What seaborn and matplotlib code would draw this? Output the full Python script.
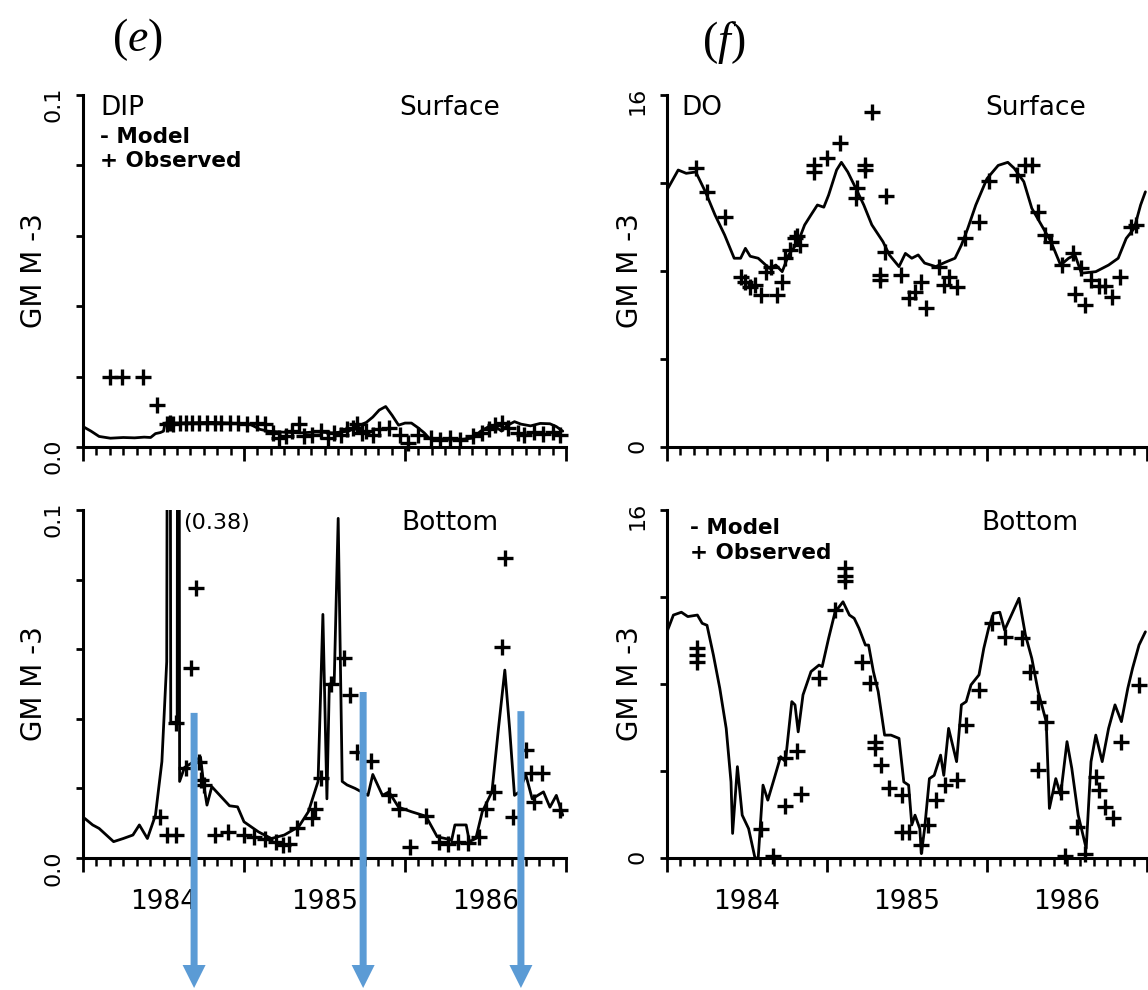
import numpy as np
import seaborn as sns
import matplotlib.pyplot as plt
from matplotlib.patches import FancyArrow
from matplotlib.ticker import FixedLocator, FuncFormatter, NullFormatter
from matplotlib.transforms import IdentityTransform

# ---- DIP surface (g m-3) ----
dip_surf_model_t = [1984.0, 1984.05, 1984.1, 1984.17, 1984.25, 1984.32, 1984.38, 1984.42, 1984.45,
                    1984.48, 1984.5, 1984.51, 1984.6, 1984.7, 1984.8, 1984.9, 1984.98, 1985.04,
                    1985.1, 1985.15, 1985.25, 1985.35, 1985.45, 1985.55, 1985.65, 1985.71, 1985.76,
                    1985.8, 1985.84, 1985.88, 1985.92, 1985.96, 1986.0, 1986.04, 1986.08, 1986.12,
                    1986.15, 1986.25, 1986.35, 1986.42, 1986.47, 1986.52, 1986.57, 1986.6, 1986.63,
                    1986.68, 1986.72, 1986.78, 1986.84, 1986.9, 1986.94, 1986.98]
dip_surf_model = [0.0058, 0.0045, 0.003, 0.0025, 0.0027, 0.0026, 0.0028, 0.0027, 0.0038,
                  0.0041, 0.0045, 0.0068, 0.0068, 0.0069, 0.007, 0.0068, 0.0066, 0.0064,
                  0.005, 0.0045, 0.0042, 0.004, 0.0043, 0.004, 0.0045, 0.006, 0.007,
                  0.0085, 0.0105, 0.0115, 0.009, 0.0062, 0.0068, 0.0068, 0.0055, 0.004,
                  0.0025, 0.0022, 0.0022, 0.0025, 0.0045, 0.0058, 0.0055, 0.0045, 0.006,
                  0.0072, 0.0065, 0.006, 0.0067, 0.0066, 0.0058, 0.0045]
dip_surf_obs_t = [1984.17, 1984.24, 1984.37, 1984.46, 1984.52, 1984.54, 1984.56, 1984.6, 1984.64,
                  1984.68, 1984.72, 1984.77, 1984.82, 1984.86, 1984.91, 1984.96, 1985.02, 1985.08,
                  1985.13, 1985.18, 1985.22, 1985.26, 1985.3, 1985.34, 1985.37, 1985.42, 1985.48,
                  1985.52, 1985.56, 1985.6, 1985.64, 1985.68, 1985.7, 1985.73, 1985.76, 1985.8,
                  1985.84, 1985.9, 1985.97, 1986.02, 1986.08, 1986.16, 1986.22, 1986.28, 1986.34,
                  1986.42, 1986.48, 1986.52, 1986.56, 1986.6, 1986.64, 1986.7, 1986.74, 1986.8,
                  1986.86, 1986.92, 1986.96]
dip_surf_obs = [0.02, 0.02, 0.02, 0.012, 0.0066, 0.0068, 0.0066, 0.0068, 0.0069,
                0.0068, 0.0069, 0.0068, 0.0069, 0.0068, 0.0068, 0.0069, 0.0066, 0.0068,
                0.0066, 0.004, 0.0025, 0.003, 0.0045, 0.0065, 0.003, 0.0035, 0.0045,
                0.0025, 0.004, 0.0035, 0.005, 0.0055, 0.0065, 0.004, 0.0045, 0.0035,
                0.005, 0.0055, 0.0035, 0.0012, 0.0035, 0.0025, 0.002, 0.0025, 0.002,
                0.003, 0.004, 0.005, 0.0062, 0.0068, 0.0055, 0.004, 0.0035, 0.0042,
                0.0038, 0.0042, 0.0035]

# ---- DIP bottom (g m-3) ----
dip_bot_model_t = [1984.01, 1984.06, 1984.1, 1984.19, 1984.25, 1984.31, 1984.35, 1984.4, 1984.45,
                   1984.49, 1984.52, 1984.535, 1984.545, 1984.585, 1984.592, 1984.6, 1984.63,
                   1984.665, 1984.73, 1984.75, 1984.77, 1984.8, 1984.85, 1984.91, 1984.96,
                   1985.0, 1985.09, 1985.17, 1985.25, 1985.34, 1985.4, 1985.46, 1985.49,
                   1985.515, 1985.53, 1985.56, 1985.585, 1985.61, 1985.64, 1985.69, 1985.73,
                   1985.77, 1985.8, 1985.86, 1985.9, 1985.96, 1986.04, 1986.13, 1986.2,
                   1986.29, 1986.31, 1986.38, 1986.4, 1986.44, 1986.48, 1986.54, 1986.58,
                   1986.62, 1986.65, 1986.68, 1986.71, 1986.75, 1986.79, 1986.86, 1986.9,
                   1986.94, 1986.98]
dip_bot_model = [0.0114, 0.0095, 0.0085, 0.0047, 0.0056, 0.0066, 0.0095, 0.0056, 0.0123,
                 0.0277, 0.0564, 0.38, 0.039, 0.039, 0.38, 0.022, 0.026,
                 0.027, 0.029, 0.021, 0.0152, 0.0205, 0.018, 0.015, 0.0147,
                 0.0104, 0.0075, 0.0056, 0.0066, 0.009, 0.0133, 0.022, 0.07,
                 0.017, 0.05, 0.05, 0.0976, 0.022, 0.021, 0.02, 0.019,
                 0.018, 0.024, 0.018, 0.019, 0.0146, 0.0133, 0.012, 0.0061,
                 0.0052, 0.0095, 0.0095, 0.0047, 0.0056, 0.0133, 0.019, 0.037,
                 0.054, 0.037, 0.018, 0.019, 0.024, 0.017, 0.019, 0.0146,
                 0.018, 0.0123]
dip_bot_obs_t = [1984.48, 1984.52, 1984.58, 1984.58, 1984.64, 1984.67, 1984.7, 1984.72, 1984.73,
                 1984.75, 1984.82, 1984.9, 1985.0, 1985.06, 1985.13, 1985.2, 1985.24, 1985.28,
                 1985.33, 1985.42, 1985.44, 1985.48, 1985.54, 1985.62, 1985.66, 1985.7, 1985.79,
                 1985.9, 1985.96, 1986.03, 1986.13, 1986.21, 1986.27, 1986.33, 1986.39, 1986.46,
                 1986.5, 1986.55, 1986.6, 1986.62, 1986.67, 1986.75, 1986.78, 1986.8, 1986.85,
                 1986.96]
dip_bot_obs = [0.0119, 0.0066, 0.0066, 0.0387, 0.026, 0.0547, 0.0777, 0.0277, 0.0225,
               0.021, 0.0066, 0.0075, 0.0066, 0.006, 0.0056, 0.0047, 0.0037, 0.004,
               0.0085, 0.0114, 0.014, 0.023, 0.05, 0.0574, 0.0468, 0.0305, 0.028,
               0.018, 0.014, 0.0033, 0.012, 0.0045, 0.004, 0.0045, 0.0042, 0.006,
               0.014, 0.019, 0.0607, 0.0861, 0.0119, 0.031, 0.0243, 0.0162, 0.0243,
               0.0138]

# ---- DO surface (g m-3) ----
do_surf_model_t = [1984.0, 1984.07, 1984.12, 1984.18, 1984.24, 1984.3, 1984.36, 1984.42, 1984.46,
                   1984.49, 1984.52, 1984.57, 1984.64, 1984.68, 1984.72, 1984.76, 1984.82, 1984.86,
                   1984.9, 1984.94, 1984.98, 1985.01, 1985.06, 1985.09, 1985.13, 1985.18, 1985.23,
                   1985.28, 1985.35, 1985.39, 1985.45, 1985.49, 1985.53, 1985.57, 1985.61, 1985.68,
                   1985.74, 1985.8, 1985.84, 1985.88, 1985.93, 1986.0, 1986.07, 1986.13, 1986.17,
                   1986.23, 1986.28, 1986.34, 1986.4, 1986.46, 1986.51, 1986.55, 1986.59, 1986.68,
                   1986.76, 1986.82, 1986.87, 1986.92, 1986.96, 1986.99]
do_surf_model = [11.68, 12.59, 12.44, 12.5, 11.6, 10.55, 9.64, 8.58, 8.58,
                 9.03, 8.67, 8.58, 8.12, 8.27, 7.97, 8.73, 9.33, 10.09,
                 10.55, 11.0, 10.9, 11.45, 12.59, 12.94, 12.5, 11.76, 11.0,
                 10.1, 9.33, 8.73, 8.2, 8.8, 8.58, 8.73, 8.36, 8.2,
                 8.4, 8.58, 9.18, 9.94, 11.0, 12.2, 12.8, 12.94, 12.67,
                 12.06, 10.85, 10.09, 9.33, 8.27, 8.58, 8.73, 7.9, 7.97,
                 8.27, 8.58, 9.48, 9.94, 11.0, 11.6]
do_surf_obs_t = [1984.18, 1984.25, 1984.36, 1984.46, 1984.49, 1984.52, 1984.55, 1984.59, 1984.62,
                 1984.65, 1984.69, 1984.72, 1984.74, 1984.77, 1984.8, 1984.83, 1984.81, 1984.92,
                 1984.92, 1985.0, 1985.08, 1985.24, 1985.24, 1985.28, 1985.19, 1985.18, 1985.37,
                 1985.36, 1985.33, 1985.33, 1985.46, 1985.51, 1985.55, 1985.59, 1985.62, 1985.7,
                 1985.73, 1985.76, 1985.81, 1985.86, 1985.95, 1986.01, 1986.19, 1986.24, 1986.28,
                 1986.32, 1986.36, 1986.4, 1986.47, 1986.54, 1986.55, 1986.59, 1986.61, 1986.65,
                 1986.7, 1986.74, 1986.78, 1986.83, 1986.9, 1986.93]
do_surf_obs = [12.7, 11.6, 10.47, 7.74, 7.5, 7.27, 7.35, 6.9, 7.97,
               8.2, 6.9, 7.5, 8.58, 8.94, 9.48, 9.18, 9.6, 12.82,
               12.5, 13.12, 13.8, 12.8, 12.6, 15.24, 11.76, 11.3, 11.4,
               8.88, 7.6, 7.8, 7.8, 6.76, 7.06, 7.5, 6.3, 8.2,
               7.36, 7.74, 7.27, 9.48, 10.24, 12.1, 12.36, 12.8, 12.8,
               10.7, 9.64, 9.33, 8.27, 8.8, 6.97, 8.12, 6.45, 7.6,
               7.3, 7.3, 6.82, 7.74, 10.0, 10.1]

# ---- DO bottom (g m-3) ----
do_bot_model_t = [1984.0, 1984.04, 1984.09, 1984.13, 1984.19, 1984.22, 1984.25, 1984.29, 1984.33,
                  1984.37, 1984.4, 1984.41, 1984.44, 1984.47, 1984.51, 1984.55, 1984.57, 1984.6,
                  1984.63, 1984.67, 1984.71, 1984.74, 1984.78, 1984.8, 1984.82, 1984.85, 1984.9,
                  1984.95, 1984.97, 1985.01, 1985.05, 1985.1, 1985.14, 1985.17, 1985.2, 1985.24,
                  1985.26, 1985.29, 1985.32, 1985.36, 1985.4, 1985.45, 1985.48, 1985.51, 1985.53,
                  1985.55, 1985.58, 1985.59, 1985.61, 1985.64, 1985.67, 1985.71, 1985.73, 1985.76,
                  1985.81, 1985.84, 1985.87, 1985.9, 1985.95, 1985.98, 1986.01, 1986.04, 1986.08,
                  1986.11, 1986.2, 1986.24, 1986.28, 1986.32, 1986.37, 1986.39, 1986.43, 1986.46,
                  1986.5, 1986.53, 1986.57, 1986.62, 1986.65, 1986.68, 1986.72, 1986.76, 1986.8,
                  1986.84, 1986.88, 1986.91, 1986.95, 1986.99]
do_bot_model = [10.4, 11.17, 11.3, 11.1, 11.17, 10.79, 10.7, 9.33, 7.8,
                5.96, 3.5, 1.13, 4.2, 1.97, 1.35, 0.0, 0.0, 3.35,
                2.66, 3.65, 4.66, 4.43, 7.19, 7.04, 5.8, 7.5, 8.57,
                8.87, 8.8, 10.1, 11.3, 11.78, 11.17, 11.02, 10.56, 9.79,
                9.79, 8.57, 7.65, 5.65, 5.65, 5.5, 3.5, 3.35, 1.52,
                1.97, 1.35, 0.2, 1.35, 3.65, 3.8, 4.73, 3.8, 5.96,
                4.43, 7.04, 7.19, 7.96, 8.42, 9.64, 10.56, 11.25, 11.3,
                10.48, 11.94, 10.26, 9.18, 7.65, 6.27, 2.28, 3.65, 2.89,
                5.35, 4.12, 1.97, 0.44, 4.43, 5.65, 4.43, 5.96, 7.04,
                6.27, 7.8, 8.73, 9.79, 10.4]
do_bot_obs_t = [1984.19, 1984.19, 1984.19, 1984.59, 1984.66, 1984.74, 1984.84, 1984.74, 1984.81,
                1984.95, 1985.05, 1985.11, 1985.11, 1985.11, 1985.22, 1985.27, 1985.3, 1985.3,
                1985.34, 1985.39, 1985.47, 1985.47, 1985.51, 1985.59, 1985.63, 1985.68, 1985.74,
                1985.81, 1985.87, 1985.95, 1986.03, 1986.11, 1986.22, 1986.27, 1986.32, 1986.37,
                1986.32, 1986.46, 1986.49, 1986.56, 1986.61, 1986.68, 1986.7, 1986.74, 1986.79,
                1986.84, 1986.95]
do_bot_obs = [9.64, 9.33, 9.03, 1.35, 0.1, 2.4, 2.94, 4.6, 4.9,
              8.26, 11.4, 13.32, 12.96, 12.73, 9.03, 8.03, 5.35, 5.04,
              4.27, 3.2, 1.2, 2.89, 1.2, 0.58, 1.52, 2.66, 3.35,
              3.6, 6.1, 7.73, 10.79, 10.18, 10.1, 8.57, 7.19, 6.27,
              4.04, 3.05, 0.1, 1.44, 0.2, 3.73, 3.12, 2.35, 1.82,
              5.35, 7.96]

year_labels = ["1984", "1985", "1986"]
arrow_years = [1984.69, 1985.74, 1986.72]
arrow_tops = [0.0417, 0.0477, 0.0422]

sns.set_style("ticks")
plt.rcParams["font.family"] = ["DejaVu Sans"]
plt.rcParams["mathtext.fontset"] = "custom"
plt.rcParams["mathtext.it"] = "Liberation Serif:italic"
plt.rcParams["mathtext.rm"] = "Liberation Serif"
for k in ["text.color", "axes.labelcolor", "axes.edgecolor", "xtick.color", "ytick.color"]:
    plt.rcParams[k] = "black"

W, H = 1148, 990
fig = plt.figure(figsize=(W / 100, H / 100), dpi=100)


def box(x0, x1, ytop, ybot):
    return [x0 / W, 1 - ybot / H, (x1 - x0) / W, (ybot - ytop) / H]


def draw_panel(ax, mt, mv, ot, ov, ymax, nticks, ylabels, show_years, label_x):
    sns.lineplot(x=mt, y=mv, ax=ax, color="black", linewidth=2.0,
                 sort=False, estimator=None)
    sns.scatterplot(x=ot, y=ov, ax=ax, marker="+", s=120, color="black",
                    linewidth=2.4, clip_on=False, zorder=3)
    ax.set_xlim(1984, 1987)
    ax.set_ylim(0, ymax)
    for s in ["top", "right"]:
        ax.spines[s].set_visible(False)
    for s in ["left", "bottom"]:
        ax.spines[s].set_linewidth(2.2)

    ax.set_yticks(np.linspace(0, ymax, nticks))
    ax.set_yticklabels(ylabels)
    ax.tick_params(axis="y", length=5, width=2, pad=9, labelsize=16,
                   labelrotation=90)

    ax.xaxis.set_major_locator(FixedLocator([1984, 1985, 1986, 1987]))
    ax.xaxis.set_major_formatter(NullFormatter())
    months = [1984 + k / 12 for k in range(37) if k % 12 != 0]
    ax.xaxis.set_minor_locator(FixedLocator(months))

    def fmt(v, pos):
        if show_years and abs(v - int(v) - 0.5) < 1e-6:
            return year_labels[int(v) - 1984]
        return ""

    ax.xaxis.set_minor_formatter(FuncFormatter(fmt))
    ax.tick_params(axis="x", which="major", length=10, width=2)
    ax.tick_params(axis="x", which="minor", length=6, width=1.8,
                   labelsize=19, pad=16)

    ax.set_xlabel("")
    ax.set_ylabel("GM M -3", fontsize=20)
    ax.yaxis.set_label_coords(label_x, 0.5)


ax_e1 = fig.add_axes(box(83, 566, 95, 447))
ax_e2 = fig.add_axes(box(83, 566, 510, 858))
ax_f1 = fig.add_axes(box(667, 1147, 95, 447))
ax_f2 = fig.add_axes(box(667, 1147, 510, 858))

dip_lbl = ["0.0", "", "", "", "", "0.1"]
do_lbl = ["0", "", "", "", "16"]
draw_panel(ax_e1, dip_surf_model_t, dip_surf_model, dip_surf_obs_t, dip_surf_obs,
           0.1, 6, dip_lbl, False, -0.072)
draw_panel(ax_e2, dip_bot_model_t, dip_bot_model, dip_bot_obs_t, dip_bot_obs,
           0.1, 6, dip_lbl, True, -0.072)
draw_panel(ax_f1, do_surf_model_t, do_surf_model, do_surf_obs_t, do_surf_obs,
           16, 5, do_lbl, False, -0.048)
draw_panel(ax_f2, do_bot_model_t, do_bot_model, do_bot_obs_t, do_bot_obs,
           16, 5, do_lbl, True, -0.048)

# panel annotations
txt = dict(va="center", fontsize=19)
leg = dict(va="center", ha="left", fontsize=15.5, fontweight="bold")
ax_e1.text(0.035, 0.963, "DIP", transform=ax_e1.transAxes, ha="left", **txt)
ax_e1.text(0.76, 0.963, "Surface", transform=ax_e1.transAxes, ha="center", **txt)
ax_e1.text(0.035, 0.882, "- Model", transform=ax_e1.transAxes, **leg)
ax_e1.text(0.035, 0.812, "+ Observed", transform=ax_e1.transAxes, **leg)
ax_e2.text(0.208, 0.964, "(0.38)", transform=ax_e2.transAxes, ha="left", fontsize=16, va="center")
ax_e2.text(0.76, 0.963, "Bottom", transform=ax_e2.transAxes, ha="center", **txt)
ax_f1.text(0.03, 0.963, "DO", transform=ax_f1.transAxes, ha="left", **txt)
ax_f1.text(0.767, 0.963, "Surface", transform=ax_f1.transAxes, ha="center", **txt)
ax_f2.text(0.048, 0.948, "- Model", transform=ax_f2.transAxes, **leg)
ax_f2.text(0.048, 0.876, "+ Observed", transform=ax_f2.transAxes, **leg)
ax_f2.text(0.756, 0.963, "Bottom", transform=ax_f2.transAxes, ha="center", **txt)

fig.text(137 / W, 1 - 40 / H, r"($\mathit{e}$)", fontsize=33,
         family="Liberation Serif", ha="center", va="center")
fig.text(724 / W, 1 - 42 / H, r"($\mathit{f}$)", fontsize=33,
         family="Liberation Serif", ha="center", va="center")

# blue arrows pointing down out of the DIP bottom panel
for xa, ya in zip(arrow_years, arrow_tops):
    px, py = ax_e2.transData.transform((xa, ya))
    tip = 2
    fig.add_artist(FancyArrow(px, py, 0, tip - py, width=7, head_width=23,
                              head_length=23, length_includes_head=True,
                              color="#5B9BD5", linewidth=0,
                              transform=IdentityTransform(), zorder=10))

fig.savefig("out.png", dpi=100)
